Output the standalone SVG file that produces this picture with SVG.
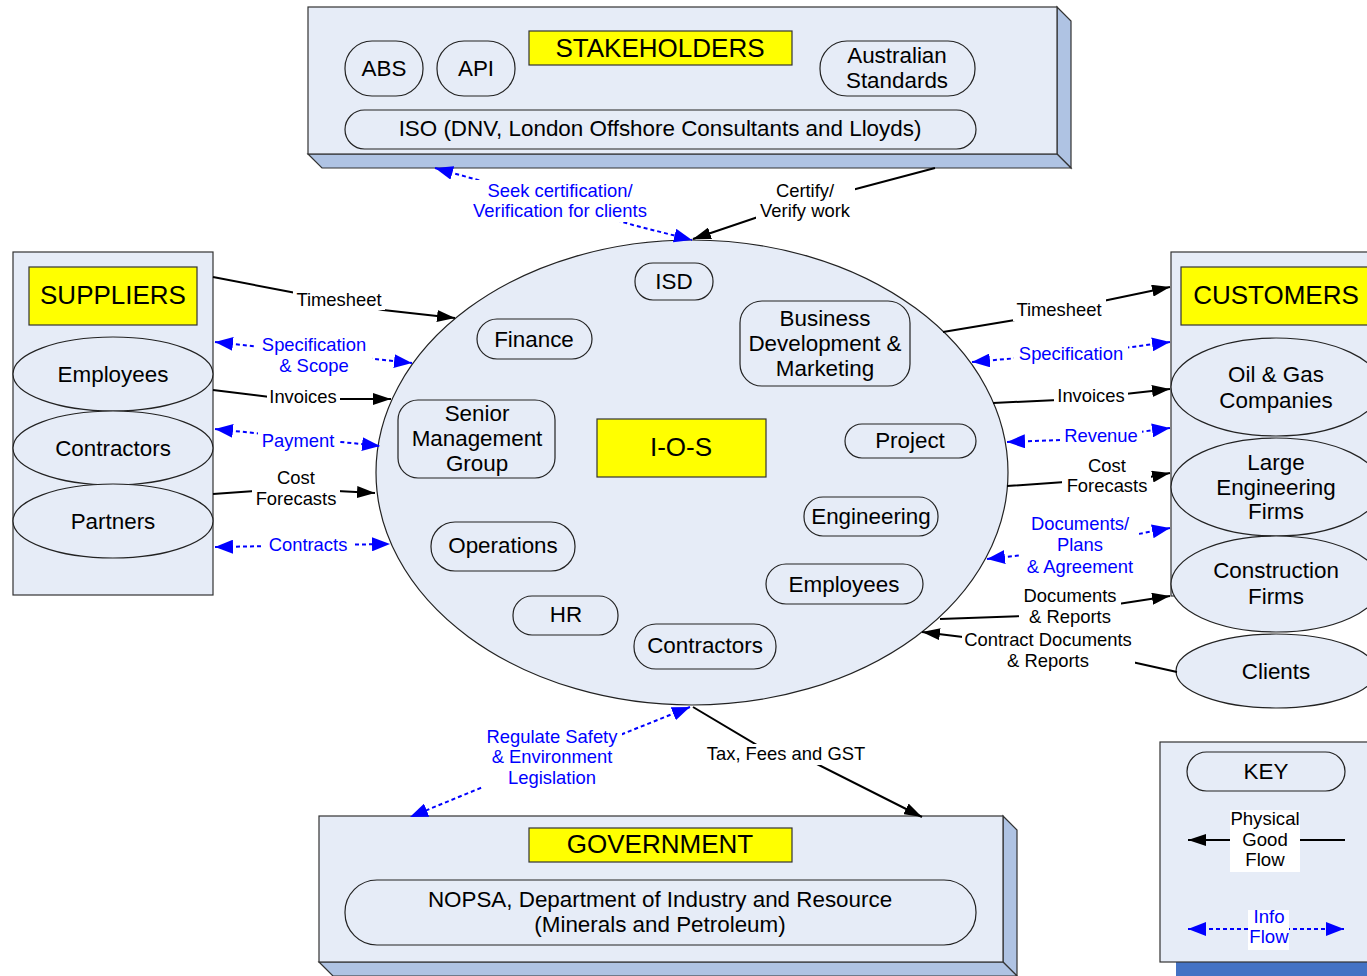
<svg xmlns="http://www.w3.org/2000/svg" width="1367" height="976" viewBox="0 0 1367 976">
<style>
text{font-family:"Liberation Sans",Arial,sans-serif;fill:#000;text-anchor:middle}
.n{font-size:22.4px}
.t{font-size:26px}
.l{font-size:18.4px}
.b{fill:#0000FF}
.k{font-size:18.6px}
.box{fill:#E6ECF7;stroke:#333;stroke-width:1.2}
.side{fill:#AFC3E3;stroke:#333;stroke-width:1.2}
.pill{fill:#E6ECF7;stroke:#222;stroke-width:1.2}
.yel{fill:#FFFF00;stroke:#333;stroke-width:1.2}
.ph{fill:none;stroke:#000;stroke-width:2}
.inf{fill:none;stroke:#0000FF;stroke-width:2;stroke-dasharray:4 3}
.bg{fill:#fff}
</style>
<defs>
<marker id="ab" viewBox="0 0 18 12" refX="18" refY="6" markerWidth="18" markerHeight="12" markerUnits="userSpaceOnUse" orient="auto-start-reverse"><path d="M0,0 L18,6 L0,12 z" fill="#000"/></marker>
<marker id="au" viewBox="0 0 18 14" refX="18" refY="7" markerWidth="18" markerHeight="14" markerUnits="userSpaceOnUse" orient="auto-start-reverse"><path d="M0,0 L18,7 L0,14 z" fill="#0000FF"/></marker>
</defs>

<g id="stakeholders">
<path class="side" d="M1057,7 L1071,21 L1071,168 L1057,154 z"/>
<path class="side" d="M308,154 L1057,154 L1071,168 L322,168 z"/>
<rect class="box" x="308" y="7" width="749" height="147"/>
<rect class="yel" x="529" y="31" width="263" height="34"/>
<text class="t" x="660" y="57">STAKEHOLDERS</text>
<rect class="pill" x="345" y="41" width="78" height="55" rx="27"/>
<text class="n" x="384" y="76">ABS</text>
<rect class="pill" x="437" y="41" width="78" height="55" rx="27"/>
<text class="n" x="476" y="76">API</text>
<rect class="pill" x="820" y="41" width="155" height="55" rx="27"/>
<text class="n" x="897" y="63">Australian</text>
<text class="n" x="897" y="88">Standards</text>
<rect class="pill" x="345" y="110" width="631" height="39" rx="19.5"/>
<text class="n" x="660" y="136">ISO (DNV, London Offshore Consultants and Lloyds)</text>
</g>

<g id="suppliers">
<rect class="box" x="13" y="252" width="200" height="343"/>
<rect class="yel" x="29" y="267" width="168" height="58"/>
<text class="t" x="113" y="304">SUPPLIERS</text>
<ellipse class="pill" cx="113" cy="374" rx="100" ry="37"/>
<text class="n" x="113" y="382">Employees</text>
<ellipse class="pill" cx="113" cy="448" rx="100" ry="37"/>
<text class="n" x="113" y="456">Contractors</text>
<ellipse class="pill" cx="113" cy="521" rx="100" ry="37"/>
<text class="n" x="113" y="529">Partners</text>
</g>

<g id="customers">
<rect class="box" x="1171" y="252" width="210" height="344"/>
<rect class="yel" x="1181" y="267" width="200" height="58"/>
<text class="t" x="1276" y="304">CUSTOMERS</text>
<ellipse class="pill" cx="1276" cy="387" rx="105" ry="49"/>
<text class="n" x="1276" y="382">Oil &amp; Gas</text>
<text class="n" x="1276" y="408">Companies</text>
<ellipse class="pill" cx="1276" cy="487" rx="105" ry="49"/>
<text class="n" x="1276" y="470">Large</text>
<text class="n" x="1276" y="495">Engineering</text>
<text class="n" x="1276" y="519">Firms</text>
<ellipse class="pill" cx="1276" cy="584" rx="105" ry="48"/>
<text class="n" x="1276" y="578">Construction</text>
<text class="n" x="1276" y="604">Firms</text>
</g>

<g id="clients">
<ellipse class="pill" cx="1276" cy="671" rx="100" ry="37"/>
<text class="n" x="1276" y="679">Clients</text>
</g>

<g id="ios">
<ellipse class="pill" cx="692" cy="472.5" rx="316" ry="232.5"/>
<rect class="yel" x="597" y="419" width="169" height="58"/>
<text class="t" x="681" y="456">I-O-S</text>
<rect class="pill" x="635" y="263" width="78" height="37" rx="18"/>
<text class="n" x="674" y="289">ISD</text>
<rect class="pill" x="477" y="319" width="115" height="40" rx="20"/>
<text class="n" x="534" y="347">Finance</text>
<rect class="pill" x="740" y="301" width="170" height="85" rx="22"/>
<text class="n" x="825" y="326">Business</text>
<text class="n" x="825" y="351">Development &amp;</text>
<text class="n" x="825" y="376">Marketing</text>
<rect class="pill" x="398" y="400" width="157" height="78" rx="20"/>
<text class="n" x="477" y="421">Senior</text>
<text class="n" x="477" y="446">Management</text>
<text class="n" x="477" y="471">Group</text>
<rect class="pill" x="845" y="424" width="131" height="34" rx="17"/>
<text class="n" x="910" y="448">Project</text>
<rect class="pill" x="804" y="497" width="134" height="39" rx="19"/>
<text class="n" x="871" y="524">Engineering</text>
<rect class="pill" x="431" y="522" width="144" height="49" rx="24"/>
<text class="n" x="503" y="553">Operations</text>
<rect class="pill" x="766" y="564" width="157" height="40" rx="20"/>
<text class="n" x="844" y="592">Employees</text>
<rect class="pill" x="513" y="596" width="105" height="39" rx="19"/>
<text class="n" x="566" y="622">HR</text>
<rect class="pill" x="634" y="624" width="142" height="45" rx="22"/>
<text class="n" x="705" y="653">Contractors</text>
</g>

<g id="government">
<path class="side" d="M1003,816 L1017,830 L1017,976 L1003,962 z"/>
<path class="side" d="M319,962 L1003,962 L1017,976 L333,976 z"/>
<rect class="box" x="319" y="816" width="684" height="146"/>
<rect class="yel" x="529" y="828" width="263" height="34"/>
<text class="t" x="660" y="853">GOVERNMENT</text>
<rect class="pill" x="345" y="880" width="631" height="65" rx="32"/>
<text class="n" x="660" y="907">NOPSA, Department of Industry and Resource</text>
<text class="n" x="660" y="932">(Minerals and Petroleum)</text>
</g>

<g id="key">
<rect x="1176" y="955" width="191" height="21" fill="#4472C4"/>
<rect class="box" x="1160" y="742" width="215" height="220"/>
<rect class="pill" x="1187" y="752" width="158" height="39" rx="19.5"/>
<text class="n" x="1266" y="779">KEY</text>
<line class="ph" x1="1345" y1="840" x2="1188" y2="840" marker-end="url(#ab)"/>
<rect class="bg" x="1230" y="810" width="70" height="62"/>
<text class="k" x="1265" y="825">Physical</text>
<text class="k" x="1265" y="846">Good</text>
<text class="k" x="1265" y="866">Flow</text>
<line class="inf" x1="1188" y1="929" x2="1344" y2="929" marker-start="url(#au)" marker-end="url(#au)"/>
<rect class="bg" x="1248" y="910" width="41" height="40"/>
<text class="k b" x="1269" y="923">Info</text>
<text class="k b" x="1269" y="943">Flow</text>
</g>

<g id="connectors">
<!-- suppliers -->
<polyline class="ph" points="213,277 296,293 383,310 455,318" marker-end="url(#ab)"/>
<line class="inf" x1="215" y1="342" x2="412" y2="363" marker-start="url(#au)" marker-end="url(#au)"/>
<polyline class="ph" points="213,390 270,397 337,399 391,399" marker-end="url(#ab)"/>
<line class="inf" x1="215" y1="429" x2="380" y2="446" marker-start="url(#au)" marker-end="url(#au)"/>
<polyline class="ph" points="213,494 255,491 337,491 375,493" marker-end="url(#ab)"/>
<line class="inf" x1="215" y1="547" x2="390" y2="544" marker-start="url(#au)" marker-end="url(#au)"/>
<!-- customers -->
<polyline class="ph" points="943,332 1015,320 1103,301 1170,287" marker-end="url(#ab)"/>
<polyline class="inf" points="972,362 1018,358 1124,348 1170,342" marker-start="url(#au)" marker-end="url(#au)"/>
<polyline class="ph" points="993,403 1058,400 1125,394 1170,389" marker-end="url(#ab)"/>
<polyline class="inf" points="1007,442 1062,440 1140,432 1170,428" marker-start="url(#au)" marker-end="url(#au)"/>
<polyline class="ph" points="1007,486 1065,482 1150,477 1170,473" marker-end="url(#ab)"/>
<polyline class="inf" points="987,559 1023,555 1133,535 1170,528" marker-start="url(#au)" marker-end="url(#au)"/>
<polyline class="ph" points="940,619 1023,616 1118,604 1170,596" marker-end="url(#ab)"/>
<polyline class="ph" points="1177,672 1132,662 963,637 922,632" marker-end="url(#ab)"/>
<!-- top -->
<polyline class="inf" points="435,168 485,182 633,225 692,240" marker-start="url(#au)" marker-end="url(#au)"/>
<polyline class="ph" points="935,168 852,190 758,217 693,239" marker-end="url(#ab)"/>
<!-- bottom -->
<polyline class="inf" points="690,707 620,735 483,787 410,817" marker-start="url(#au)" marker-end="url(#au)"/>
<polyline class="ph" points="693,707 757,745 813,762 922,817" marker-end="url(#ab)"/>

<!-- labels -->
<rect class="bg" x="293" y="288" width="92" height="22"/>
<text class="l" x="339" y="306">Timesheet</text>
<rect class="bg" x="256" y="334" width="116" height="43"/>
<text class="l b" x="314" y="351">Specification</text>
<text class="l b" x="314" y="372">&amp; Scope</text>
<rect class="bg" x="267" y="387" width="73" height="21"/>
<text class="l" x="303" y="403">Invoices</text>
<rect class="bg" x="258" y="431" width="81" height="21"/>
<text class="l b" x="298" y="447">Payment</text>
<rect class="bg" x="252" y="469" width="88" height="41"/>
<text class="l" x="296" y="484">Cost</text>
<text class="l" x="296" y="505">Forecasts</text>
<rect class="bg" x="264" y="535" width="88" height="21"/>
<text class="l b" x="308" y="551">Contracts</text>

<rect class="bg" x="1013" y="299" width="93" height="22"/>
<text class="l" x="1059" y="316">Timesheet</text>
<rect class="bg" x="1014" y="343" width="114" height="22"/>
<text class="l b" x="1071" y="360">Specification</text>
<rect class="bg" x="1054" y="386" width="74" height="21"/>
<text class="l" x="1091" y="402">Invoices</text>
<rect class="bg" x="1061" y="425" width="81" height="21"/>
<text class="l b" x="1101" y="442">Revenue</text>
<rect class="bg" x="1062" y="456" width="89" height="41"/>
<text class="l" x="1107" y="472">Cost</text>
<text class="l" x="1107" y="492">Forecasts</text>
<rect class="bg" x="1021" y="514" width="118" height="64"/>
<text class="l b" x="1080" y="530">Documents/</text>
<text class="l b" x="1080" y="551">Plans</text>
<text class="l b" x="1080" y="573">&amp; Agreement</text>
<rect class="bg" x="1019" y="586" width="102" height="42"/>
<text class="l" x="1070" y="602">Documents</text>
<text class="l" x="1070" y="623">&amp; Reports</text>
<rect class="bg" x="962" y="629" width="173" height="43"/>
<text class="l" x="1048" y="646">Contract Documents</text>
<text class="l" x="1048" y="667">&amp; Reports</text>

<rect class="bg" x="470" y="180" width="181" height="42"/>
<text class="l b" x="560" y="197">Seek certification/</text>
<text class="l b" x="560" y="217">Verification for clients</text>
<rect class="bg" x="756" y="180" width="99" height="42"/>
<text class="l" x="805" y="197">Certify/</text>
<text class="l" x="805" y="217">Verify work</text>

<rect class="bg" x="482" y="727" width="140" height="62"/>
<text class="l b" x="552" y="743">Regulate Safety</text>
<text class="l b" x="552" y="763">&amp; Environment</text>
<text class="l b" x="552" y="784">Legislation</text>
<rect class="bg" x="700" y="744" width="173" height="21"/>
<text class="l" x="786" y="760">Tax, Fees and GST</text>
</g>
</svg>
